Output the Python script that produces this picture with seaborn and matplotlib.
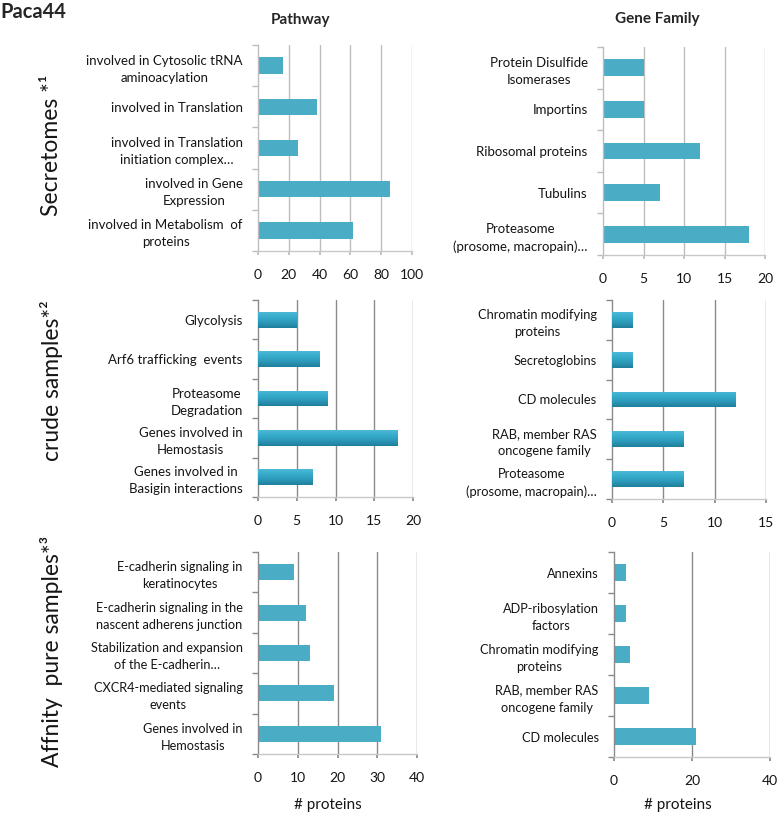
import matplotlib
matplotlib.use("Agg")
import matplotlib.pyplot as plt
import seaborn as sns
import pandas as pd
import numpy as np
from matplotlib.ticker import FixedLocator
from matplotlib.colors import LinearSegmentedColormap

sns.set_theme(style="white")
plt.rcParams['font.family'] = ['Lato', 'DejaVu Sans']

# ---------------- data ----------------
p1_labels = ["involved in Cytosolic tRNA\naminoacylation", "involved in Translation",
             "involved in Translation\ninitiation complex…", "involved in Gene\nExpression",
             "involved in Metabolism  of\nproteins"]
p1_values = [16, 38, 26, 86, 62]
p1_ticks = [0, 20, 40, 60, 80, 100]

g1_labels = ["Protein Disulfide\nIsomerases", "Importins", "Ribosomal proteins", "Tubulins",
             "Proteasome\n(prosome, macropain)…"]
g1_values = [5, 5, 12, 7, 18]
g1_ticks = [0, 5, 10, 15, 20]

p2_labels = ["Glycolysis", "Arf6 trafficking  events", "Proteasome\nDegradation",
             "Genes involved in\nHemostasis", "Genes involved in\nBasigin interactions"]
p2_values = [5, 8, 9, 18, 7]
p2_ticks = [0, 5, 10, 15, 20]

g2_labels = ["Chromatin modifying\nproteins", "Secretoglobins", "CD molecules",
             "RAB, member RAS\noncogene family", "Proteasome\n(prosome, macropain)…"]
g2_values = [2, 2, 12, 7, 7]
g2_ticks = [0, 5, 10, 15]

p3_labels = ["E-cadherin signaling in\nkeratinocytes", "E-cadherin signaling in the\nnascent adherens junction",
             "Stabilization and expansion\nof the E-cadherin…", "CXCR4-mediated signaling\nevents",
             "Genes involved in\nHemostasis"]
p3_values = [9, 12, 13, 19, 31]
p3_ticks = [0, 10, 20, 30, 40]

g3_labels = ["Annexins", "ADP-ribosylation\nfactors", "Chromatin modifying\nproteins",
             "RAB, member RAS\noncogene family", "CD molecules"]
g3_values = [3, 3, 4, 9, 21]
g3_ticks = [0, 20, 40]

row_titles = ["Secretomes *¹", "crude samples*²", "Affnity  pure samples*³"]
col_titles = ["Pathway", "Gene Family"]
xlabel_text = "# proteins"

# ---------------- layout ----------------
W, H = 778, 813
fig = plt.figure(figsize=(W / 100, H / 100), dpi=100)
BAR = "#4bacc6"
TXT = "#151515"
GRAD = LinearSegmentedColormap.from_list("g", ["#4cb9d6", "#36abcb", "#2c98b8", "#1f7f9c"])


def rect(x0, x1, top, bottom):
    return [x0 / W, 1 - bottom / H, (x1 - x0) / W, (bottom - top) / H]


panels = [
    (rect(258, 412, 45, 251), p1_labels, p1_values, p1_ticks, 9.5, "#bdbdbd", False),
    (rect(603, 765, 47, 255), g1_labels, g1_values, g1_ticks, 9.5, "#bdbdbd", False),
    (rect(258, 413, 300, 497), p2_labels, p2_values, p2_ticks, 9.5, "#8a8a8a", True),
    (rect(612, 766, 300, 499), g2_labels, g2_values, g2_ticks, 9.3, "#8a8a8a", True),
    (rect(258, 417, 552, 754), p3_labels, p3_values, p3_ticks, 9.2, "#8a8a8a", False),
    (rect(614, 770, 552, 757), g3_labels, g3_values, g3_ticks, 9.2, "#8a8a8a", False),
]

axes = []
for r, labels, values, ticks, fs, grid, gradient in panels:
    ax = fig.add_axes(r)
    df = pd.DataFrame({"cat": labels, "val": values})
    sns.barplot(data=df, y="cat", x="val", orient="h", color=BAR, width=0.4,
                saturation=1, ax=ax, linewidth=0, zorder=2)
    ax.set_xlim(ticks[0], ticks[-1])
    ax.set_ylim(4.5, -0.5)
    if gradient:
        grad = np.linspace(1, 0, 64).reshape(-1, 1)
        for p in ax.patches:
            x0, y0 = p.get_x(), p.get_y()
            w, h = p.get_width(), p.get_height()
            im = ax.imshow(grad, cmap=GRAD, aspect="auto", zorder=3,
                           extent=(x0, x0 + w, y0 + h, y0), origin="lower")
            im.set_clip_path(p)
        ax.set_xlim(ticks[0], ticks[-1])
        ax.set_ylim(4.5, -0.5)
    ax.set_xticks(ticks)
    ax.set_xticklabels([str(t) for t in ticks], fontsize=10, color=TXT)
    for t in ticks[1:]:
        ax.axvline(t, color=grid, lw=1.0, zorder=0)
    ax.set_xlabel("")
    ax.set_ylabel("")
    for s in ["top", "right"]:
        ax.spines[s].set_visible(False)
    ax.spines["left"].set_color(grid)
    ax.spines["bottom"].set_color("#c8c8c8")
    ax.spines["left"].set_linewidth(1.0)
    ax.spines["bottom"].set_linewidth(1.0)
    ax.yaxis.set_minor_locator(FixedLocator([-0.5, 0.5, 1.5, 2.5, 3.5, 4.5]))
    ax.tick_params(axis="y", which="major", length=0, pad=11)
    ax.tick_params(axis="y", which="minor", length=4, color=grid, left=True)
    ax.tick_params(axis="x", length=3, color=grid, pad=10, bottom=True)
    for lab in ax.get_yticklabels():
        lab.set_fontsize(fs)
        lab.set_multialignment("center")
        lab.set_color(TXT)
        lab.set_linespacing(1.5)
    axes.append(ax)

for ax, x, y in [(axes[4], 0.44, -0.252), (axes[5], 0.41, -0.234)]:
    ax.set_xlabel(xlabel_text, fontsize=11, color=TXT, va="center")
    ax.xaxis.set_label_coords(x, y)

fig.text(0 / W, 1 - 12 / H, "Paca44", fontsize=14.5, fontweight="bold", ha="left", va="center")
fig.text(300 / W, 1 - 20 / H, col_titles[0], fontsize=11, fontweight="bold", ha="center", va="center")
fig.text(657 / W, 1 - 19 / H, col_titles[1], fontsize=11, fontweight="bold", ha="center", va="center")
for title, yc in zip(row_titles, [145, 381, 651]):
    fig.text(52 / W, 1 - yc / H, title, fontsize=16.5, rotation=90, ha="center", va="center", color=TXT)

fig.savefig("out.png", dpi=100, facecolor="white")
